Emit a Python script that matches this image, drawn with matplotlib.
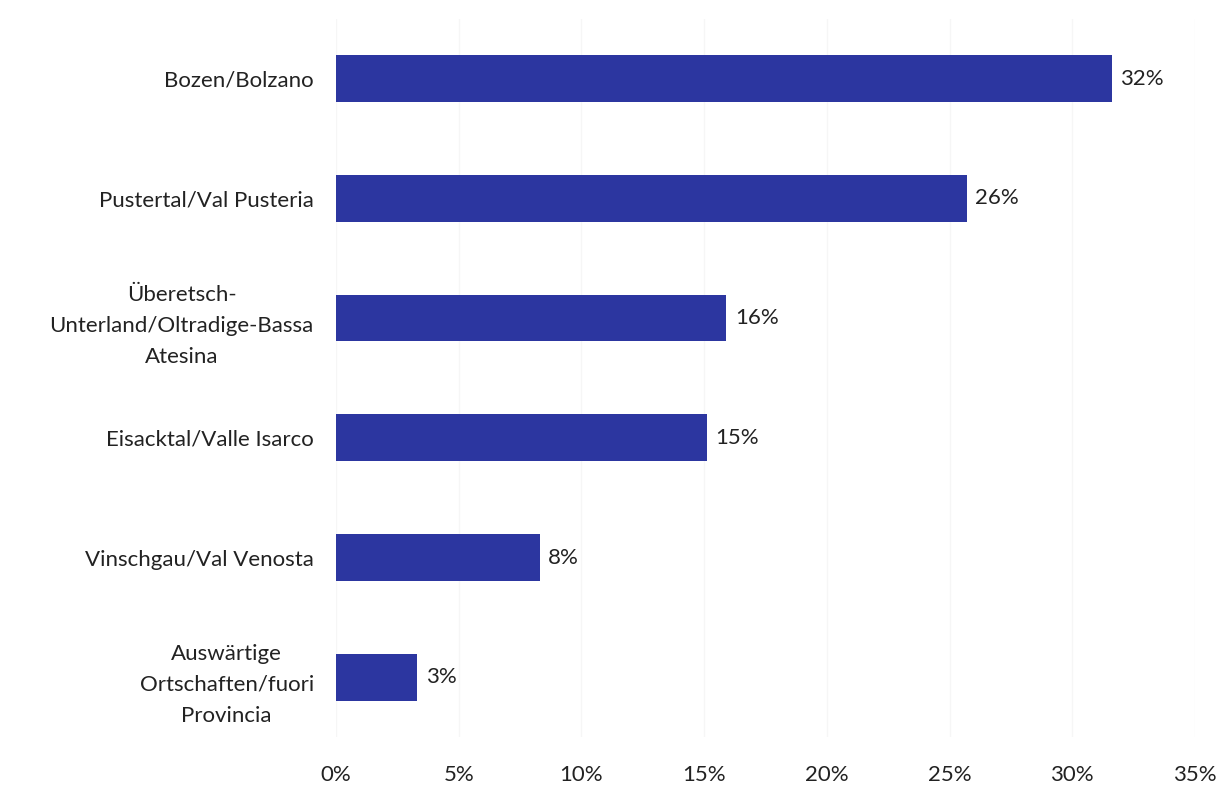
import matplotlib.pyplot as plt
import numpy as np

plt.rcParams['font.family'] = ['Lato', 'DejaVu Sans']

regions = ['Bozen/Bolzano',
           'Pustertal/Val Pusteria',
           'Überetsch-\nUnterland/Oltradige-Bassa\nAtesina',
           'Eisacktal/Valle Isarco',
           'Vinschgau/Val Venosta',
           'Auswärtige\nOrtschaften/fuori\nProvincia']
shares = [31.6, 25.7, 15.9, 15.1, 8.3, 3.3]
labels = ['32%', '26%', '16%', '15%', '8%', '3%']
ticks = [0, 5, 10, 15, 20, 25, 30, 35]

fig = plt.figure(figsize=(12.2, 7.85), dpi=100)
ax = fig.add_axes([0.2754, 0.061, 0.7041, 0.915])

y = np.arange(len(regions))
ax.barh(y, shares, height=0.39, color='#2C36A0', zorder=2)
for yi, v, lab in zip(y, shares, labels):
    ax.text(v + 0.35, yi, lab, va='center', ha='left', fontsize=16, color='#222222')

ax.set_yticks(y)
ax.set_yticklabels(regions, fontsize=16, color='#222222',
                   multialignment='center', linespacing=1.7)
ax.set_ylim(len(regions) - 0.5, -0.5)
ax.set_xlim(0, 35)
ax.set_xticks(ticks)
ax.set_xticklabels([f'{t}%' for t in ticks], fontsize=16, color='#222222')
ax.tick_params(axis='both', length=0)
ax.tick_params(axis='x', pad=20)
ax.tick_params(axis='y', pad=16)
ax.grid(axis='x', color='#f6f6f6', linewidth=1, zorder=0)
for s in ax.spines.values():
    s.set_visible(False)

fig.savefig('out.png', dpi=100)
